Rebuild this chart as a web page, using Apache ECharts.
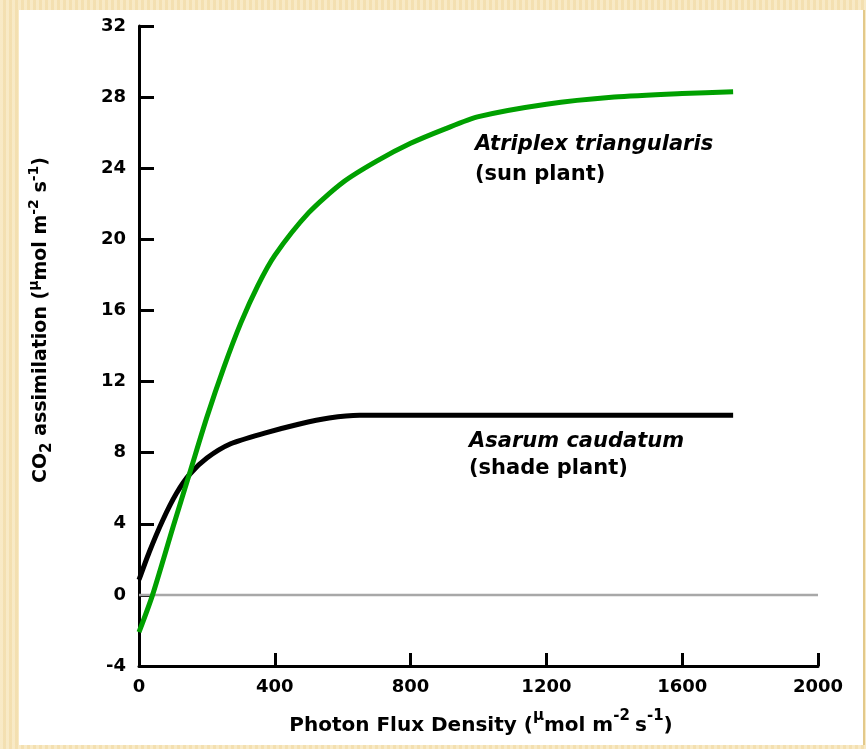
<!DOCTYPE html>
<html><head><meta charset="utf-8">
<script src="https://cdn.jsdelivr.net/npm/echarts@6/dist/echarts.min.js"></script>
<style>
html,body{margin:0;padding:0;width:866px;height:749px;overflow:hidden;
background:#f7e5b9;
background-image:repeating-linear-gradient(90deg,rgba(255,255,255,0.18) 0px,rgba(255,255,255,0.18) 3px,rgba(200,160,80,0.08) 3px,rgba(200,160,80,0.08) 6px);}
#panel{position:absolute;left:19px;top:10px;width:844px;height:735px;background:#fff;border-right:2px solid #e3c98a;}
#chart{width:844px;height:735px;}
</style></head>
<body><div id="panel"><div id="chart"></div></div>
<script>
const sunX = [0, 40, 100, 150, 200, 250, 300, 350, 400, 500, 600, 700, 800, 900, 1000, 1200, 1400, 1600, 1750];
const sunY = [-2.1, 0, 3.8, 6.9, 10.0, 12.8, 15.3, 17.4, 19.1, 21.5, 23.2, 24.4, 25.4, 26.2, 26.9, 27.6, 28.0, 28.2, 28.3];
const shadeX = [0, 30, 70, 110, 150, 200, 270, 370, 470, 560, 650, 1750];
const shadeY = [0.85, 2.4, 4.2, 5.7, 6.8, 7.7, 8.5, 9.1, 9.6, 9.95, 10.1, 10.1];
const xTicks = [0, 400, 800, 1200, 1600, 2000];
const yTicks = [-4, 0, 4, 8, 12, 16, 20, 24, 28, 32];

const FONT = 'DejaVu Sans';
const chart = echarts.init(document.getElementById('chart'), null, {renderer: 'canvas'});
const pairs = (xs, ys) => xs.map((x, i) => [x, ys[i]]);
chart.setOption({
  animation: false,
  backgroundColor: '#fff',
  grid: {left: 120, right: 45, top: 16, bottom: 79},
  xAxis: {
    type: 'value', min: xTicks[0], max: xTicks[xTicks.length - 1], interval: 400,
    axisLine: {onZero: false, lineStyle: {color: '#000', width: 3}},
    axisTick: {inside: true, length: 13, lineStyle: {color: '#000', width: 3}},
    axisLabel: {color: '#000', fontFamily: FONT, fontWeight: 'bold', fontSize: 18, margin: 12,
      formatter: v => String(v)},
    splitLine: {show: false}
  },
  yAxis: {
    type: 'value', min: yTicks[0], max: yTicks[yTicks.length - 1], interval: 4,
    axisLine: {onZero: false, lineStyle: {color: '#000', width: 3}},
    axisTick: {inside: true, length: 15, lineStyle: {color: '#000', width: 3}},
    axisLabel: {color: '#000', fontFamily: FONT, fontWeight: 'bold', fontSize: 18, margin: 13,
      formatter: v => String(v)},
    splitLine: {show: false}
  },
  series: [
    {
      type: 'line', data: [[0, 0], [2000, 0]], symbol: 'none', silent: true,
      lineStyle: {color: '#a8a8a8', width: 2.5}, z: 1
    },
    {
      name: 'Asarum caudatum', type: 'line', data: pairs(shadeX, shadeY), smooth: 0.25,
      symbol: 'none', lineStyle: {color: '#000', width: 5}, z: 3
    },
    {
      name: 'Atriplex triangularis', type: 'line', data: pairs(sunX, sunY), smooth: 0.25,
      symbol: 'none', lineStyle: {color: '#00a000', width: 5}, z: 4
    }
  ],
  graphic: [
    {type: 'text', left: 456, top: 124, style: {text: 'Atriplex triangularis', font: 'italic bold 21px "DejaVu Sans"', fill: '#000'}},
    {type: 'text', left: 456, top: 154, style: {text: '(sun plant)', font: 'bold 21px "DejaVu Sans"', fill: '#000'}},
    {type: 'text', left: 450, top: 421, style: {text: 'Asarum caudatum', font: 'italic bold 21px "DejaVu Sans"', fill: '#000'}},
    {type: 'text', left: 450, top: 448, style: {text: '(shade plant)', font: 'bold 21px "DejaVu Sans"', fill: '#000'}},
    {
      type: 'text', x: 462, y: 712,
      style: {
        text: '{a|Photon Flux Density (}{s|μ}{a|mol m}{s|-2 }{a|s}{s|-1}{a|)}',
        align: 'center', verticalAlign: 'middle',
        rich: {
          a: {fontFamily: FONT, fontWeight: 'bold', fontSize: 20, fill: '#000', lineHeight: 27, verticalAlign: 'bottom'},
          s: {fontFamily: FONT, fontWeight: 'bold', fontSize: 15, fill: '#000', lineHeight: 27, verticalAlign: 'top'}
        }
      }
    },
    {
      type: 'text', x: 22, y: 310, rotation: Math.PI / 2,
      style: {
        text: '{a|CO}{b|2}{a| assimilation (}{s|μ}{a|mol m}{s|-2}{a| s}{s|-1}{a|)}',
        align: 'center', verticalAlign: 'middle',
        rich: {
          a: {fontFamily: FONT, fontWeight: 'bold', fontSize: 19, fill: '#000', lineHeight: 28, verticalAlign: 'middle'},
          s: {fontFamily: FONT, fontWeight: 'bold', fontSize: 14, fill: '#000', lineHeight: 28, verticalAlign: 'top'},
          b: {fontFamily: FONT, fontWeight: 'bold', fontSize: 15, fill: '#000', lineHeight: 28, verticalAlign: 'bottom'}
        }
      }
    }
  ]
});
</script></body></html>
